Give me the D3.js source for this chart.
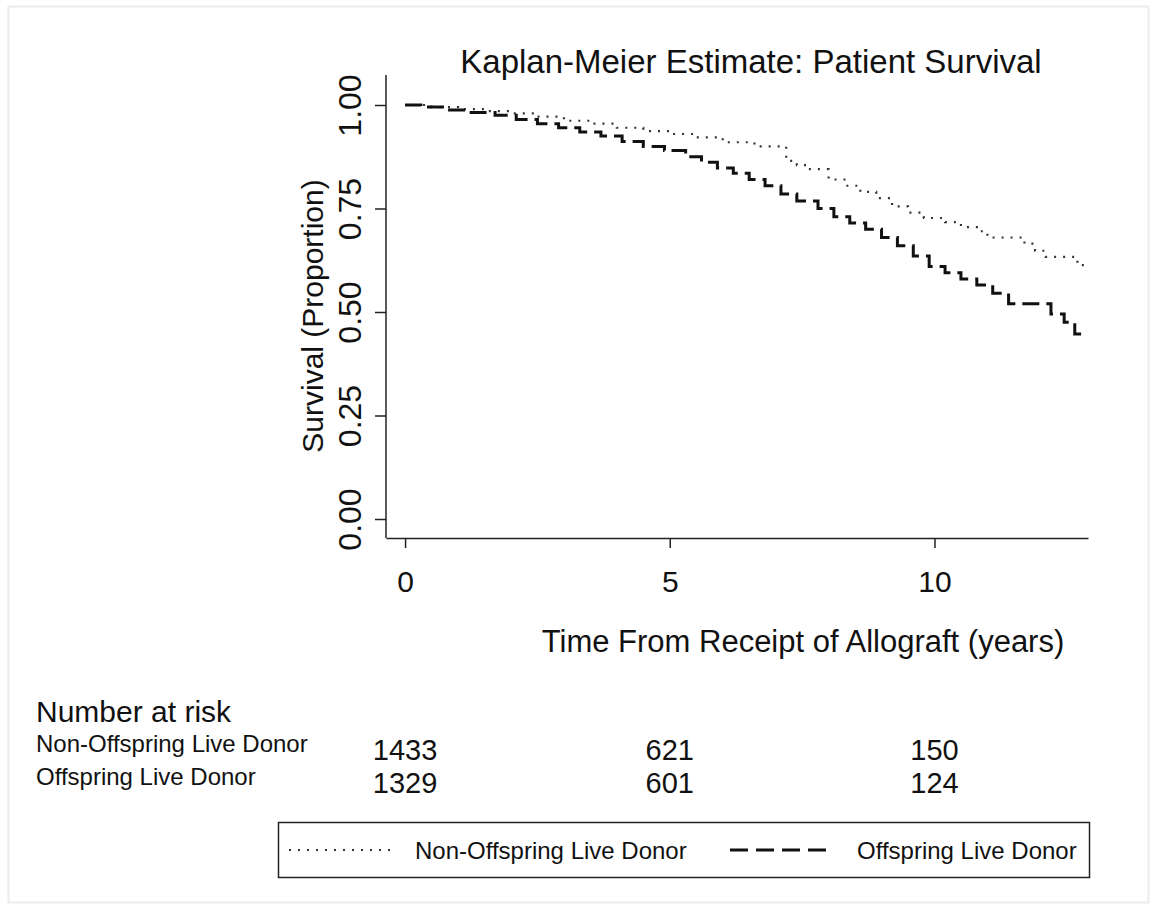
<!DOCTYPE html>
<html>
<head>
<meta charset="utf-8">
<script src="https://cdn.jsdelivr.net/npm/d3@7"></script>
<style>
  body { margin: 0; background: #fff; }
  text { font-family: "Liberation Sans", Arial, sans-serif; fill: #111; }
  .narrow { font-family: "Liberation Sans Narrow", "Liberation Sans", Arial, sans-serif; }
</style>
</head>
<body>
<svg id="chart" width="1152" height="906"></svg>
<script>
// survival steps
var offTimes = [0, 0.3, 0.8, 1.2, 1.7, 2.1, 2.5, 2.9, 3.3, 3.7, 4.1, 4.5, 4.9, 5.3, 5.6, 5.9, 6.2, 6.5, 6.8, 7.1, 7.4, 7.8, 8.1, 8.4, 8.7, 9.0, 9.3, 9.6, 9.9, 10.2, 10.5, 10.8, 11.1, 11.4, 12.2, 12.45, 12.65, 12.9];
var offSurv  = [1.0, 0.995, 0.988, 0.982, 0.975, 0.965, 0.955, 0.945, 0.935, 0.925, 0.912, 0.90, 0.89, 0.875, 0.862, 0.848, 0.835, 0.82, 0.805, 0.785, 0.768, 0.75, 0.73, 0.715, 0.70, 0.68, 0.66, 0.635, 0.61, 0.595, 0.58, 0.565, 0.545, 0.52, 0.495, 0.475, 0.447, 0.447];

var nonTimes = [0, 0.5, 1.0, 1.5, 2.0, 2.5, 3.0, 3.5, 4.0, 4.5, 5.0, 5.5, 6.0, 6.6, 7.2, 7.4, 7.6, 8.0, 8.3, 8.6, 8.9, 9.2, 9.5, 9.8, 10.2, 10.5, 10.8, 11.0, 11.7, 11.9, 12.1, 12.7, 12.9];
var nonSurv  = [1.0, 0.995, 0.99, 0.985, 0.98, 0.972, 0.962, 0.955, 0.945, 0.937, 0.93, 0.922, 0.91, 0.90, 0.865, 0.855, 0.845, 0.82, 0.805, 0.79, 0.775, 0.755, 0.74, 0.727, 0.717, 0.705, 0.695, 0.68, 0.665, 0.648, 0.633, 0.613, 0.613];

var xTicks = [0, 5, 10];
var yTicks = [0, 0.25, 0.5, 0.75, 1.0];
var groups = ["Non-Offspring Live Donor", "Offspring Live Donor"];
var riskNon = [1433, 621, 150];
var riskOff = [1329, 601, 124];

var svg = d3.select("#chart");

// faint frame round the whole picture
svg.append("rect").attr("x", 8.5).attr("y", 6.5).attr("width", 1140).attr("height", 896)
    .attr("fill", "none").attr("stroke", "#ececec").attr("stroke-width", 2);

var x = d3.scaleLinear().domain([-0.36, 12.9]).range([386, 1088]);
var y = d3.scaleLinear().domain([0, 1]).range([519, 105]);
var yBottom = 538, yTop = 75;

/* --------- AXES ---------*/
var xAxis = svg.append("g").attr("transform", "translate(0," + yBottom + ")")
    .call(d3.axisBottom(x).tickValues(xTicks).tickSize(10).tickSizeOuter(0).tickFormat(d3.format("d")));
xAxis.select(".domain").attr("stroke", "#222").attr("stroke-width", 1.5);
xAxis.selectAll(".tick line").attr("stroke", "#222").attr("stroke-width", 1.5);
xAxis.selectAll(".tick text").attr("font-size", 30).attr("dy", 0).attr("y", 54)
    .style("font-family", '"Liberation Sans", Arial, sans-serif').attr("fill", "#111");

var yAxis = svg.append("g").attr("transform", "translate(386,0)")
    .call(d3.axisLeft(y).tickValues(yTicks).tickSize(11).tickSizeOuter(0).tickFormat(d3.format(".2f")));
yAxis.select(".domain").attr("d", "M0," + yTop + "V" + yBottom).attr("stroke", "#222").attr("stroke-width", 1.5);
yAxis.selectAll(".tick line").attr("stroke", "#222").attr("stroke-width", 1.5);
yAxis.selectAll(".tick text")
    .attr("font-size", 32).attr("x", null).attr("dy", null)
    .attr("text-anchor", "middle")
    .attr("transform", "translate(-25,0) rotate(-90)")
    .attr("y", 0)
    .style("font-family", '"Liberation Sans", Arial, sans-serif').attr("fill", "#111");

/* --------- CURVES ---------*/
var line = d3.line()
    .x(function (d) { return x(d[0]); })
    .y(function (d) { return y(d[1]); })
    .curve(d3.curveStepAfter);

svg.append("path")
    .datum(d3.zip(nonTimes, nonSurv))
    .attr("d", line)
    .attr("fill", "none").attr("stroke", "#333").attr("stroke-width", 2.2)
    .attr("stroke-dasharray", "2,7");

svg.append("path")
    .datum(d3.zip(offTimes, offSurv))
    .attr("d", line)
    .attr("fill", "none").attr("stroke", "#111").attr("stroke-width", 3)
    .attr("stroke-dasharray", "17,7");

/* --------- TITLES ---------*/
svg.append("text").attr("x", 751).attr("y", 73).attr("text-anchor", "middle")
    .attr("font-size", 33).text("Kaplan-Meier Estimate: Patient Survival");

svg.append("text").attr("text-anchor", "middle")
    .attr("transform", "translate(323,316) rotate(-90)")
    .attr("font-size", 30).text("Survival (Proportion)");

svg.append("text").attr("x", 803).attr("y", 652).attr("text-anchor", "middle")
    .attr("font-size", 31).text("Time From Receipt of Allograft (years)");

/* --------- NUMBER AT RISK ---------*/
svg.append("text").attr("x", 36).attr("y", 722).attr("font-size", 30).text("Number at risk");
svg.append("text").attr("class", "narrow").attr("x", 36).attr("y", 752).attr("font-size", 24).text(groups[0]);
svg.append("text").attr("class", "narrow").attr("x", 36).attr("y", 785).attr("font-size", 24).text(groups[1]);

svg.selectAll("text.riskNon").data(riskNon).enter().append("text")
    .attr("class", "riskNon").attr("text-anchor", "middle")
    .attr("x", function (d, i) { return x(xTicks[i]); }).attr("y", 760)
    .attr("font-size", 29).text(function (d) { return d; });
svg.selectAll("text.riskOff").data(riskOff).enter().append("text")
    .attr("class", "riskOff").attr("text-anchor", "middle")
    .attr("x", function (d, i) { return x(xTicks[i]); }).attr("y", 793)
    .attr("font-size", 29).text(function (d) { return d; });

/* --------- LEGEND ---------*/
var lg = svg.append("g");
lg.append("rect").attr("x", 278.5).attr("y", 822.5).attr("width", 811).attr("height", 55)
    .attr("fill", "none").attr("stroke", "#222").attr("stroke-width", 1.5);
lg.append("line").attr("x1", 289).attr("x2", 392).attr("y1", 850).attr("y2", 850)
    .attr("stroke", "#333").attr("stroke-width", 2.2).attr("stroke-dasharray", "2,7");
lg.append("text").attr("class", "narrow").attr("x", 415).attr("y", 859).attr("font-size", 24).text(groups[0]);
lg.append("line").attr("x1", 730).attr("x2", 832).attr("y1", 850).attr("y2", 850)
    .attr("stroke", "#111").attr("stroke-width", 3).attr("stroke-dasharray", "18,8");
lg.append("text").attr("class", "narrow").attr("x", 857).attr("y", 859).attr("font-size", 24).text(groups[1]);
</script>
</body>
</html>
